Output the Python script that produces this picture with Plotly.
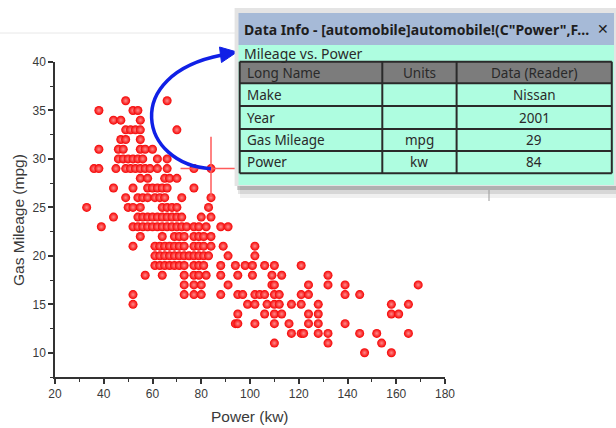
import plotly.graph_objects as go

# ---------------- data ----------------
mileage_levels = [36, 35, 34, 33, 32, 31, 30, 29, 28, 27, 26, 25, 24, 23, 22,
                  21, 20, 19, 18, 17, 16, 15, 14, 13, 12, 11, 10]
power_by_level = [
    [49, 66],
    [38, 52, 54],
    [44, 47, 55],
    [49, 51, 53, 55, 70],
    [47, 49, 55],
    [38, 46, 48, 55, 57, 60],
    [46, 48, 50, 52, 54, 56, 62, 66],
    [36, 38, 45, 49, 51, 53, 55, 57, 59, 62, 66, 77, 84],
    [55, 58, 65, 67, 70],
    [44, 52, 58, 60, 62, 64, 66, 77],
    [49, 54, 56, 58, 61, 63, 65, 72, 84],
    [33, 50, 52, 55, 64, 66, 68, 70, 83],
    [44, 54, 56, 58, 60, 62, 64, 66, 68, 70, 72, 80, 84],
    [39, 52, 54, 56, 58, 60, 62, 64, 66, 68, 70, 72, 74, 77, 79, 82, 88, 91],
    [55, 64, 69, 71, 73, 77, 79, 81, 84],
    [52, 61, 63, 65, 67, 69, 71, 73, 77, 79, 81, 84, 89, 102],
    [61, 63, 65, 67, 69, 71, 73, 75, 77, 79, 81, 83, 91, 102],
    [61, 63, 65, 67, 69, 71, 73, 77, 79, 81, 88, 94, 98, 101, 106, 110, 121],
    [57, 64, 73, 77, 79, 82, 88, 95, 101, 109, 113, 132],
    [73, 77, 80, 91, 109, 110, 124, 132, 139, 169],
    [52, 73, 77, 80, 88, 95, 97, 102, 104, 106, 110, 112, 121, 124, 139, 145],
    [52, 99, 102, 107, 110, 112, 117, 121, 128, 158, 165],
    [95, 106, 110, 113, 124, 128, 158, 161],
    [94, 95, 102, 110, 116, 124, 128, 139],
    [117, 121, 122, 128, 132, 145, 152, 165],
    [110, 132, 154],
    [147, 158],
]

selected_power = 84
selected_mpg = 29

x_ticks = [20, 40, 60, 80, 100, 120, 140, 160, 180]
y_ticks = [10, 15, 20, 25, 30, 35, 40]
x_title = "Power (kw)"
y_title = "Gas Mileage (mpg)"

info_title = "Data Info - [automobile]automobile!(C\"Power\",F..."
info_subtitle = "Mileage vs. Power"
info_headers = ["Long Name", "Units", "Data (Reader)"]
info_long_names = ["Make", "Year", "Gas Mileage", "Power"]
info_units = ["", "", "mpg", "kw"]
info_values = ["Nissan", "2001", "29", "84"]

# ---------------- build ----------------
power = []
mileage = []
for lvl, plist in zip(mileage_levels, power_by_level):
    for p in plist:
        power.append(p)
        mileage.append(lvl)

W, H = 616, 428
L, T, PW, PH = 55, 62, 390, 315


def fx(px):
    return (px - L) / PW


def fy(py):
    return (T + PH - py) / PH


fig = go.Figure()
fig.add_trace(go.Scatter(
    x=power, y=mileage, mode="markers",
    marker=dict(size=9, color="#f50000",
                gradient=dict(type="radial", color="#ff8a8a"),
                line=dict(width=0)),
    hoverinfo="skip", showlegend=False,
))

shapes = []
annotations = []

# faint page border line at the top-left
shapes.append(dict(type="line", xref="paper", yref="paper",
                   x0=fx(0), x1=fx(236), y0=fy(33), y1=fy(33),
                   line=dict(color="#e8e8e8", width=1), layer="above"))

# crosshair on the selected point
shapes.append(dict(type="line", xref="x", yref="y",
                   x0=selected_power, x1=selected_power,
                   y0=selected_mpg - 2.9, y1=selected_mpg + 3.3,
                   line=dict(color="#ff5a5a", width=1.5), layer="above"))
shapes.append(dict(type="line", xref="x", yref="y",
                   x0=selected_power - 12.5, x1=selected_power + 10,
                   y0=selected_mpg, y1=selected_mpg,
                   line=dict(color="#ff5a5a", width=1.5), layer="above"))

# blue curved arrow (pixel positions -> paper)
sx = L + (selected_power - 20) * PW / 160
sy = T + (40 - selected_mpg) * PH / 32.5
p1 = (140, 165)
p2 = (120, 75)
p3 = (222, 55)
path = "M {:.4f},{:.4f} C {:.4f},{:.4f} {:.4f},{:.4f} {:.4f},{:.4f}".format(
    fx(sx), fy(sy), fx(p1[0]), fy(p1[1]), fx(p2[0]), fy(p2[1]), fx(p3[0]), fy(p3[1]))
shapes.append(dict(type="path", xref="paper", yref="paper", path=path,
                   line=dict(color="#1020e6", width=3.5), layer="above"))
head = "M {:.4f},{:.4f} L {:.4f},{:.4f} L {:.4f},{:.4f} Z".format(
    fx(237), fy(52), fx(221.5), fy(62.5), fx(219.5), fy(47.0))
shapes.append(dict(type="path", xref="paper", yref="paper", path=head,
                   fillcolor="#1020e6", line=dict(color="#1020e6", width=1),
                   layer="above"))


def rect(x0, y0, x1, y1, fill, line_color=None, lw=0):
    shapes.append(dict(type="rect", xref="paper", yref="paper",
                       x0=fx(x0), x1=fx(x1), y0=fy(y1), y1=fy(y0),
                       fillcolor=fill,
                       line=dict(color=line_color or fill, width=lw),
                       layer="above"))


def hline(x0, x1, y, color, w):
    shapes.append(dict(type="line", xref="paper", yref="paper",
                       x0=fx(x0), x1=fx(x1), y0=fy(y), y1=fy(y),
                       line=dict(color=color, width=w), layer="above"))


def vline(x, y0, y1, color, w):
    shapes.append(dict(type="line", xref="paper", yref="paper",
                       x0=fx(x), x1=fx(x), y0=fy(y0), y1=fy(y1),
                       line=dict(color=color, width=w), layer="above"))


# window shadow
rect(240, 185, 616, 198, "rgba(0,0,0,0.06)")
rect(238, 185, 616, 194, "rgba(0,0,0,0.10)")
rect(237, 185, 616, 190, "rgba(0,0,0,0.18)")
vline(489, 190, 201, "#9a9a9a", 1)
# window frame
rect(234.6, 8, 616, 186, "#e4e4e4")
rect(238.5, 13, 614, 45, "#a6bad7")
rect(238.5, 45, 614, 185, "#aefde0")
# table
col_x = [239.7, 382.3, 456.6, 611.8]
row_y = [61.7, 83.3, 106, 129, 151, 173.3]
rect(col_x[0], row_y[0], col_x[-1], row_y[1], "#7c7c7c")
for yy in row_y:
    hline(col_x[0], col_x[-1], yy, "#2a2a2a", 2)
for xx in col_x:
    vline(xx, row_y[0], row_y[-1], "#2a2a2a", 2)

box_font = "Noto Sans, Open Sans, sans-serif"
annotations.append(dict(xref="paper", yref="paper", x=fx(241.5), y=fy(29.5),
                        xanchor="left", yanchor="middle", showarrow=False,
                        text="<b>" + info_title + "</b>",
                        font=dict(family=box_font, size=14, color="#1e1e1e")))
annotations.append(dict(xref="paper", yref="paper", x=fx(603), y=fy(29.5),
                        xanchor="center", yanchor="middle", showarrow=False,
                        text="<b>✕</b>",
                        font=dict(family="DejaVu Sans", size=14, color="#1e1e1e")))
annotations.append(dict(xref="paper", yref="paper", x=fx(241.5), y=fy(53),
                        xanchor="left", yanchor="middle", showarrow=False,
                        text=info_subtitle,
                        font=dict(family=box_font, size=14, color="#2a2a2a")))

col_centers = [(col_x[i] + col_x[i + 1]) / 2 for i in range(3)]
row_centers = [(row_y[i] + row_y[i + 1]) / 2 for i in range(5)]
table_rows = [info_headers] + [list(r) for r in zip(info_long_names, info_units, info_values)]
for ri, row in enumerate(table_rows):
    for ci, txt in enumerate(row):
        if not txt:
            continue
        if ci == 0:
            xpos, anc = col_x[0] + 5, "left"
        else:
            xpos, anc = col_centers[ci], "center"
        annotations.append(dict(xref="paper", yref="paper", x=fx(xpos),
                                y=fy(row_centers[ri]), xanchor=anc,
                                yanchor="middle", showarrow=False, text=txt,
                                font=dict(family=box_font, size=13.5,
                                          color="#2a2a2a")))

# axis titles
annotations.append(dict(xref="paper", yref="paper", x=fx(250), y=fy(416.5),
                        xanchor="center", yanchor="middle", showarrow=False,
                        text=x_title,
                        font=dict(family="Liberation Sans, Arial", size=15.5,
                                  color="#3a3a3a")))
annotations.append(dict(xref="paper", yref="paper", x=fx(18), y=fy(220),
                        xanchor="center", yanchor="middle", showarrow=False,
                        text=y_title, textangle=-90,
                        font=dict(family="Liberation Sans, Arial", size=15.5,
                                  color="#3a3a3a")))

axis_common = dict(showgrid=False, zeroline=False, showline=True,
                   linecolor="#333333", linewidth=1.5, ticks="outside",
                   ticklen=5, tickwidth=1.5, tickcolor="#333333",
                   tickfont=dict(family="Liberation Sans, Arial", size=12,
                                 color="#3a3a3a"),
                   fixedrange=True)

fig.update_layout(
    width=W, height=H,
    margin=dict(l=L, r=W - L - PW, t=T, b=H - T - PH, pad=0),
    paper_bgcolor="white", plot_bgcolor="white",
    xaxis=dict(range=[20, 180], tickvals=x_ticks,
               ticktext=[str(v) for v in x_ticks],
               minor=dict(dtick=10, tick0=0, ticks="outside", ticklen=3,
                          tickwidth=1.2, tickcolor="#333333"),
               **axis_common),
    yaxis=dict(range=[7.5, 40], tickvals=y_ticks,
               ticktext=[str(v) for v in y_ticks],
               minor=dict(dtick=2.5, tick0=0, ticks="outside", ticklen=3,
                          tickwidth=1.2, tickcolor="#333333"),
               **axis_common),
    shapes=shapes,
    annotations=annotations,
    showlegend=False,
)

fig.write_html(
    "out.html",
    config={"displayModeBar": False},
    post_script="document.body.style.margin='0';document.body.style.overflow='hidden';",
)
